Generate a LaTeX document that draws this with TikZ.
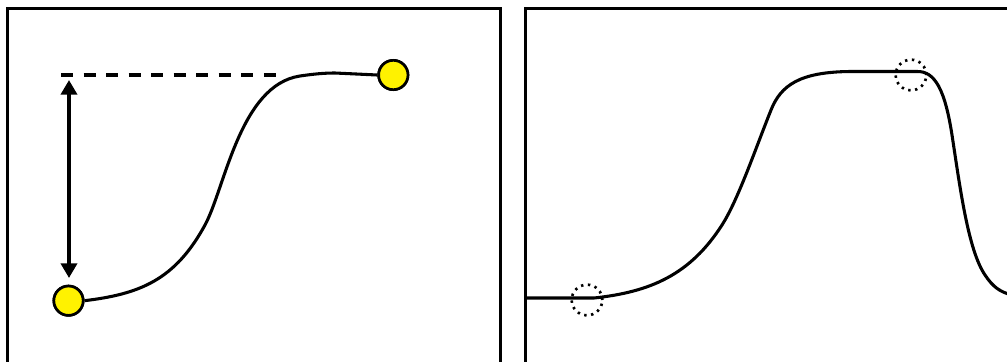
\documentclass[tikz,border=0pt]{standalone}
\usetikzlibrary{arrows.meta}
\begin{document}
\begin{tikzpicture}[x=0.75pt,y=-0.75pt,
  frame/.style={line width=2.25pt},
  curve/.style={line width=2.3pt},
  ball/.style={circle,draw,line width=2pt,fill=yellow,minimum size=22pt,inner sep=0pt},
  ring/.style={circle,draw,line width=2pt,dash pattern=on 1.8pt off 3.4pt,minimum size=23pt,inner sep=0pt},
  level/.style={line width=3pt,dash pattern=on 9pt off 7.9pt},
  span/.style={line width=3pt,{Triangle[length=11pt,width=12pt]}-{Triangle[length=11pt,width=12pt]}}]
\useasboundingbox (0,0) rectangle (1007,361);
\clip (0,0) rectangle (1007,361);
% panels
\draw[frame] (7.5,420) -- (7.5,8.5) -- (500,8.5) -- (500,420);
\draw[frame] (525.5,420) -- (525.5,8.5) -- (1100,8.5);
% left panel
\node[ball] (c1) at (68.5,300.7) {};
\node[ball] (c2) at (393.3,75) {};
\coordinate (l1) at (61,75);
\coordinate (l2) at (277,75);
\coordinate (atop) at (69,80);
\coordinate (abot) at (69,278);
\draw[level] (l1) -- (l2);
\draw[span] (atop) -- (abot);
\draw[curve] (c1.east) .. controls (140,294) and (175,280) .. (205,225)
  .. controls (225,188) and (240,85) .. (300,76)
  .. controls (315,73.8) and (325,73) .. (335,73) -- (c2.west);
\node[ball] at (c1) {};
\node[ball] at (c2) {};
% right panel
\coordinate (rs) at (525.5,298);
\coordinate (re) at (1012,295);
\draw[curve] (rs) -- (594,298) .. controls (650,292) and (690,275) .. (722,225)
  .. controls (738,200) and (755,150) .. (771,110)
  .. controls (781,85) and (800,72) .. (850,71.5) -- (917,71.5)
  .. controls (935,71) and (945,90) .. (952,135)
  .. controls (960,187) and (968,250) .. (985,275)
  .. controls (993,287) and (1000,292) .. (re);
\node[ring] (d1) at (587,300) {};
\node[ring] (d2) at (911,75) {};
\end{tikzpicture}
\end{document}
